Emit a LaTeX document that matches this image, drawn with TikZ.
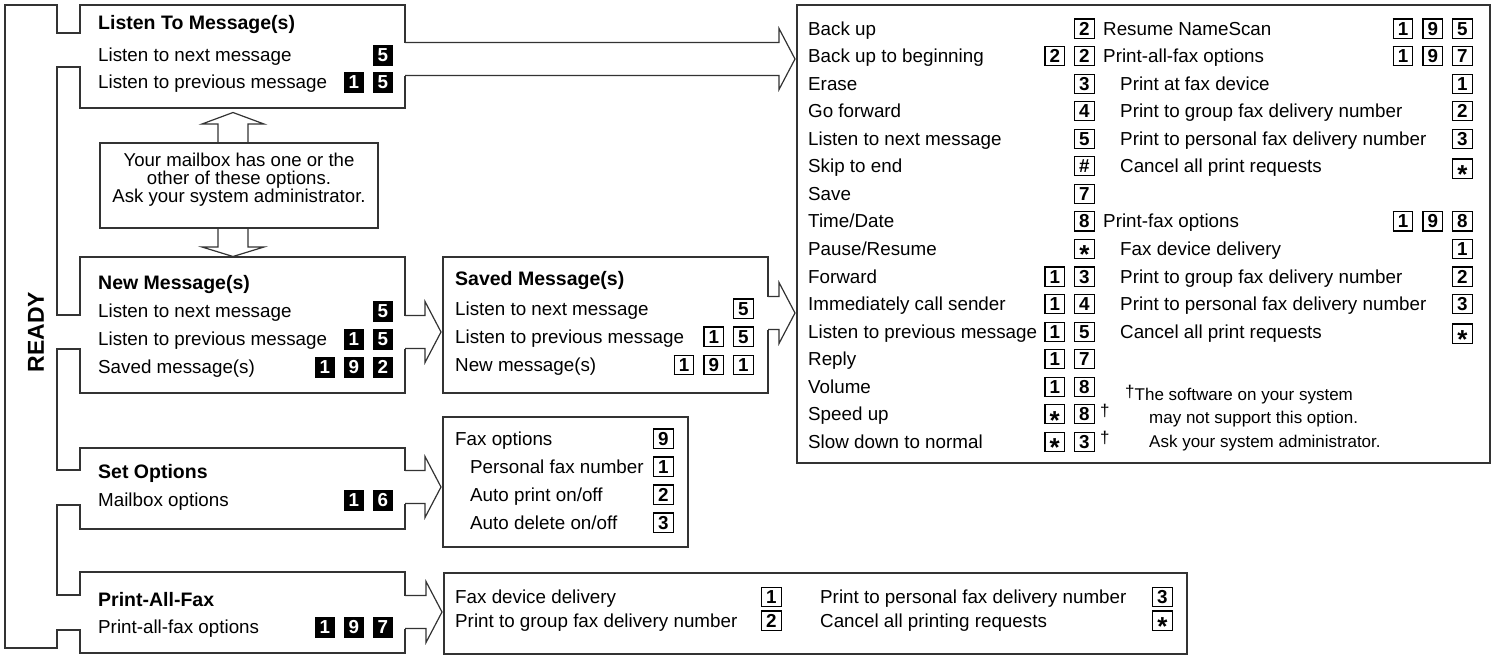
\documentclass[tikz,border=0pt]{standalone}
\usepackage{fontspec}
\setmainfont{Liberation Sans}
\usetikzlibrary{calc}
\newcommand\okey[1]{{\setlength\fboxsep{0pt}\setlength\fboxrule{1.1pt}\fbox{\makebox[18.5pt]{\rule[-2.5pt]{0pt}{18pt}\bfseries#1}}}}
\newcommand\bkey[1]{{\setlength\fboxsep{0pt}\colorbox{black}{\makebox[20pt]{\rule[-4.5pt]{0pt}{21pt}\color{white}\bfseries#1}}}}
\newcommand\kgap{\hspace{9pt}}
\newcommand\kstar{\raisebox{-8.5pt}[0pt][0pt]{\fontsize{26}{26}\selectfont *}}
\newcommand\blockarrow[3]{%
	\fill[white] ($(#1.east |- 0,#3)+(-2,-16.5)$) rectangle ($(#2.west |- 0,#3)+(-18,16.5)$);
	\draw[boxline] ($(#1.east |- 0,#3)+(0,-16.5)$) -- ($(#2.west |- 0,#3)+(-18,-16.5)$) -- ++(0,-14) -- ($(#2.west |- 0,#3)+(-2,0)$) -- ($(#2.west |- 0,#3)+(-18,30.5)$) -- ++(0,-14) -- ($(#1.east |- 0,#3)+(0,16.5)$);}
\newcommand\opentab[3]{\fill[white] ($(#1.west |- 0,#2)+(-2,0.6)$) rectangle ($(#1.west |- 0,#3)+(2,-0.6)$);}
\tikzset{
	boxline/.style={draw=black!80, line width=1.2pt},
	menubox/.style={boxline, anchor=north west, inner sep=0pt, outer sep=0pt},
	rowtext/.style={anchor=base west, inner sep=0pt, font=\fontsize{18.8}{22}\selectfont},
	rowhead/.style={rowtext, font=\fontsize{19.5}{22}\selectfont\bfseries},
	keygrp/.style={anchor=base east, inner sep=0pt, font=\fontsize{18.8}{22}\selectfont},
	notetext/.style={anchor=base west, inner sep=0pt, font=\fontsize{17}{20}\selectfont},
	asktext/.style={anchor=base, inner sep=0pt, font=\fontsize{18.6}{20}\selectfont},
	readylabel/.style={inner sep=0pt, rotate=90, font=\fontsize{23}{26}\selectfont\bfseries},
}
\begin{document}
\begin{tikzpicture}[x=1pt, y=-1pt]
			%%%%% START %%%%%
			\useasboundingbox (0,0) rectangle (1494,656);
			
			\node[menubox, minimum width=325, minimum height=103] (listen) at (80,5) {};
			\node[menubox, minimum width=325, minimum height=136] (newmsg) at (80,257) {};
			\node[menubox, minimum width=325, minimum height=81] (setopt) at (80,448) {};
			\node[menubox, minimum width=325, minimum height=81] (printall) at (80,572) {};
			\node[menubox, minimum width=278, minimum height=85] (ask) at (100,143) {};
			\node[menubox, minimum width=325, minimum height=136] (saved) at (443,257) {};
			\node[menubox, minimum width=245, minimum height=130] (faxopt) at (443,417) {};
			\node[menubox, minimum width=743, minimum height=81] (faxdel) at (444,573) {};
			\node[menubox, minimum width=693, minimum height=458] (actions) at (797,5) {};
			
			% READY bar
			\opentab{listen}{33}{67}
			\opentab{newmsg}{315}{349}
			\opentab{setopt}{470}{505}
			\opentab{printall}{595}{630}
			\draw[boxline] (listen.west |- 0,33) -| (57,5) -| (5,648) -| (57,630) -- (printall.west |- 0,630);
			\draw[boxline] (listen.west |- 0,67) -| (57,315) -- (newmsg.west |- 0,315);
			\draw[boxline] (newmsg.west |- 0,349) -| (57,470) -- (setopt.west |- 0,470);
			\draw[boxline] (setopt.west |- 0,505) -| (57,595) -- (printall.west |- 0,595);
			\node[readylabel] (ready) at (36,332) {READY};
			
			% arrows
			\blockarrow{listen}{actions}{59}
			\blockarrow{newmsg}{saved}{332}
			\blockarrow{saved}{actions}{313}
			\blockarrow{setopt}{faxopt}{487}
			\blockarrow{printall}{faxdel}{612}
			\coordinate (askaxis) at (233,185);
			\draw[boxline] ($(askaxis |- ask.north)+(-15,0)$) -- ++(0,-19) -- ++(-16,0) -- ($(askaxis |- listen.south)+(0,4.5)$) -- ($(askaxis |- ask.north)+(31,-19)$) -- ++(-16,0) -- ++(0,19);
			\draw[boxline] ($(askaxis |- ask.south)+(-15,0)$) -- ++(0,19) -- ++(-16,0) -- ($(askaxis |- newmsg.north)+(0,-0.5)$) -- ($(askaxis |- ask.south)+(31,19)$) -- ++(-16,0) -- ++(0,-19);
			
			\node[asktext] (ask1) at (239,166) {Your mailbox has one or the};
			\node[asktext] (ask2) at (239,184) {other of these options.};
			\node[asktext] (ask3) at (239,202) {Ask your system administrator.};
			
			% left boxes
			\node[rowhead] (lt) at (98,29.5) {Listen To Message(s)};
			\node[rowtext] (lt1) at (98,61.5) {Listen to next message}; \node[keygrp] (lt1k) at (393,61.5) {\bkey5};
			\node[rowtext] (lt2) at (98,88.5) {Listen to previous message}; \node[keygrp] (lt2k) at (393,88.5) {\bkey1\kgap\bkey5};
			
			\node[rowhead] (nm) at (98,289) {New Message(s)};
			\node[rowtext] (nm1) at (98,317) {Listen to next message}; \node[keygrp] (nm1k) at (393,317) {\bkey5};
			\node[rowtext] (nm2) at (98,345) {Listen to previous message}; \node[keygrp] (nm2k) at (393,345) {\bkey1\kgap\bkey5};
			\node[rowtext] (nm3) at (98,373) {Saved message(s)}; \node[keygrp] (nm3k) at (393,373) {\bkey1\kgap\bkey9\kgap\bkey2};
			
			\node[rowhead] (so) at (98,478) {Set Options};
			\node[rowtext] (so1) at (98,506.5) {Mailbox options}; \node[keygrp] (so1k) at (393,506.5) {\bkey1\kgap\bkey6};
			
			\node[rowhead] (pa) at (98,606.5) {Print-All-Fax};
			\node[rowtext] (pa1) at (98,633.5) {Print-all-fax options}; \node[keygrp] (pa1k) at (393,633.5) {\bkey1\kgap\bkey9\kgap\bkey7};
			
			% middle boxes
			\node[rowhead] (sm) at (455,285) {Saved Message(s)};
			\node[rowtext] (sm1) at (455,315) {Listen to next message}; \node[keygrp] (sm1k) at (754,315) {\okey5};
			\node[rowtext] (sm2) at (455,343) {Listen to previous message}; \node[keygrp] (sm2k) at (754,343) {\okey1\kgap\okey5};
			\node[rowtext] (sm3) at (455,371.5) {New message(s)}; \node[keygrp] (sm3k) at (754,371.5) {\okey1\kgap\okey9\kgap\okey1};
			
			\node[rowtext] (fo) at (455,445) {Fax options}; \node[keygrp] (fok) at (674,445) {\okey9};
			\node[rowtext] (fo1) at (470,473) {Personal fax number}; \node[keygrp] (fo1k) at (674,473) {\okey1};
			\node[rowtext] (fo2) at (470,501) {Auto print on/off}; \node[keygrp] (fo2k) at (674,501) {\okey2};
			\node[rowtext] (fo3) at (470,529) {Auto delete on/off}; \node[keygrp] (fo3k) at (674,529) {\okey3};
			
			\node[rowtext] (fd1) at (455,603.5) {Fax device delivery}; \node[keygrp] (fd1k) at (782,603.5) {\okey1};
			\node[rowtext] (fd2) at (455,627) {Print to group fax delivery number}; \node[keygrp] (fd2k) at (782,627) {\okey2};
			\node[rowtext] (fd3) at (820,603.5) {Print to personal fax delivery number}; \node[keygrp] (fd3k) at (1173,603.5) {\okey3};
			\node[rowtext] (fd4) at (820,627) {Cancel all printing requests}; \node[keygrp] (fd4k) at (1173,627) {\okey\kstar};
			
			% action box, left column
			\node[rowtext] (a1) at (808,35) {Back up}; \node[keygrp] (a1k) at (1095,35) {\okey2};
			\node[rowtext] (a2) at (808,62.6) {Back up to beginning}; \node[keygrp] (a2k) at (1095,62.6) {\okey2\kgap\okey2};
			\node[rowtext] (a3) at (808,90.1) {Erase}; \node[keygrp] (a3k) at (1095,90.1) {\okey3};
			\node[rowtext] (a4) at (808,117.7) {Go forward}; \node[keygrp] (a4k) at (1095,117.7) {\okey4};
			\node[rowtext] (a5) at (808,145.2) {Listen to next message}; \node[keygrp] (a5k) at (1095,145.2) {\okey5};
			\node[rowtext] (a6) at (808,172.8) {Skip to end}; \node[keygrp] (a6k) at (1095,172.8) {\okey\#};
			\node[rowtext] (a7) at (808,200.3) {Save}; \node[keygrp] (a7k) at (1095,200.3) {\okey7};
			\node[rowtext] (a8) at (808,227.9) {Time/Date}; \node[keygrp] (a8k) at (1095,227.9) {\okey8};
			\node[rowtext] (a9) at (808,255.4) {Pause/Resume}; \node[keygrp] (a9k) at (1095,255.4) {\okey\kstar};
			\node[rowtext] (a10) at (808,283) {Forward}; \node[keygrp] (a10k) at (1095,283) {\okey1\kgap\okey3};
			\node[rowtext] (a11) at (808,310.5) {Immediately call sender}; \node[keygrp] (a11k) at (1095,310.5) {\okey1\kgap\okey4};
			\node[rowtext] (a12) at (808,338.1) {Listen to previous message}; \node[keygrp] (a12k) at (1095,338.1) {\okey1\kgap\okey5};
			\node[rowtext] (a13) at (808,365.6) {Reply}; \node[keygrp] (a13k) at (1095,365.6) {\okey1\kgap\okey7};
			\node[rowtext] (a14) at (808,393.2) {Volume}; \node[keygrp] (a14k) at (1095,393.2) {\okey1\kgap\okey8};
			\node[rowtext] (a15) at (808,420.7) {Speed up}; \node[keygrp] (a15k) at (1095,420.7) {\okey\kstar\kgap\okey8};
			\node[rowtext] (a16) at (808,448.3) {Slow down to normal}; \node[keygrp] (a16k) at (1095,448.3) {\okey\kstar\kgap\okey3};
			\node[notetext] (a15d) at (1100,416) {†};
			\node[notetext] (a16d) at (1100,443.5) {†};
			
			% action box, right column
			\node[rowtext] (b1) at (1103,35) {Resume NameScan}; \node[keygrp] (b1k) at (1473,35) {\okey1\kgap\okey9\kgap\okey5};
			\node[rowtext] (b2) at (1103,62.6) {Print-all-fax options}; \node[keygrp] (b2k) at (1473,62.6) {\okey1\kgap\okey9\kgap\okey7};
			\node[rowtext] (b3) at (1120,90.1) {Print at fax device}; \node[keygrp] (b3k) at (1473,90.1) {\okey1};
			\node[rowtext] (b4) at (1120,117.7) {Print to group fax delivery number}; \node[keygrp] (b4k) at (1473,117.7) {\okey2};
			\node[rowtext] (b5) at (1120,145.2) {Print to personal fax delivery number}; \node[keygrp] (b5k) at (1473,145.2) {\okey3};
			\node[rowtext] (b6) at (1120,172.8) {Cancel all print requests}; \node[keygrp] (b6k) at (1473,175) {\okey\kstar};
			\node[rowtext] (b7) at (1103,227.9) {Print-fax options}; \node[keygrp] (b7k) at (1473,227.9) {\okey1\kgap\okey9\kgap\okey8};
			\node[rowtext] (b8) at (1120,255.4) {Fax device delivery}; \node[keygrp] (b8k) at (1473,255.4) {\okey1};
			\node[rowtext] (b9) at (1120,283) {Print to group fax delivery number}; \node[keygrp] (b9k) at (1473,283) {\okey2};
			\node[rowtext] (b10) at (1120,310.5) {Print to personal fax delivery number}; \node[keygrp] (b10k) at (1473,310.5) {\okey3};
			\node[rowtext] (b11) at (1120,338.1) {Cancel all print requests}; \node[keygrp] (b11k) at (1473,340) {\okey\kstar};
			
			\node[notetext] (fn1) at (1125,400) {\raisebox{3pt}{†}The software on your system};
			\node[notetext] (fn2) at (1149,423.5) {may not support this option.};
			\node[notetext] (fn3) at (1149,447.5) {Ask your system administrator.};
			
			%%%%% END %%%%%
\end{tikzpicture}
\end{document}
